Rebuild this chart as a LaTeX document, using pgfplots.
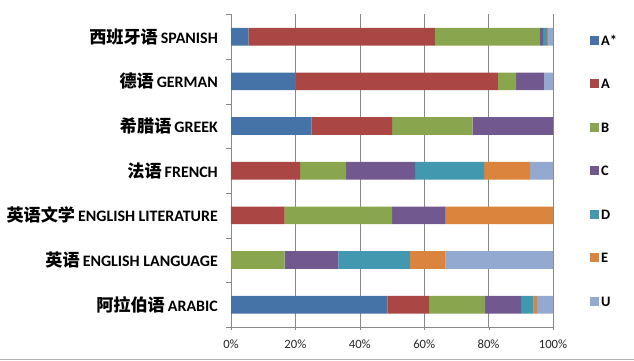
\documentclass[border=0pt]{standalone}
\usepackage{pgfplots}
\pgfplotsset{compat=1.18}
\usepackage{pgfplotstable}
\usepackage{fontspec}
\setmainfont{Carlito}
\newfontfamily\cjk{Noto Sans CJK SC}
\definecolor{cAs}{HTML}{4572A7}
\definecolor{cA}{HTML}{AA4643}
\definecolor{cB}{HTML}{89A54E}
\definecolor{cC}{HTML}{71588F}
\definecolor{cD}{HTML}{4198AF}
\definecolor{cE}{HTML}{DB843D}
\definecolor{cU}{HTML}{93A9CF}
\definecolor{gridc}{HTML}{888888}
\pgfplotstableread{
y As A B C D E U
0 48.6 12.9 17.4 11.2 3.9 1.1 4.9
1 0 0 16.67 16.67 22.22 11.11 33.33
2 0 16.67 33.33 16.67 0 33.33 0
3 0 21.43 14.29 21.43 21.43 14.29 7.14
4 25 25 25 25 0 0 0
5 20 62.86 5.71 8.57 0 0 2.86
6 5.5 57.8 32.6 1.0 1.3 0.2 1.6
}\datatab
\newcommand{\lab}[2]{{\cjk\bfseries #1}\kern3bp{\fontsize{16}{16}\selectfont\bfseries #2}}
\begin{document}
\begin{tikzpicture}
\path[use as bounding box] (0,0) rectangle (634bp,361bp);
\draw[gray!60, line width=0.8bp] (0,2bp) -- (634bp,2bp);
\begin{axis}[
  at={(231bp,34bp)}, anchor=south west,
  scale only axis, width=322bp, height=312.6bp,
  xbar stacked, bar width=17.7bp,
  xmin=0, xmax=100, ymin=-0.5, ymax=6.5,
  axis lines*=left,
  axis line style={gridc},
  xtick={0,20,...,100},
  xticklabels={0\%,20\%,40\%,60\%,80\%,100\%},
  xmajorgrids, major grid style={gridc, line width=0.6bp},
  ytick={0,...,6},
  yticklabels={
    \lab{阿拉伯语}{ARABIC},
    \lab{英语}{ENGLISH LANGUAGE},
    \lab{英语文学}{ENGLISH LITERATURE},
    \lab{法语}{FRENCH},
    \lab{希腊语}{GREEK},
    \lab{德语}{GERMAN},
    \lab{西班牙语}{SPANISH}},
  minor ytick={-0.5,0.5,...,6.5},
  y tick style={gridc},
  x tick style={gridc},
  major y tick style={draw=none},
  minor tick length=5bp,
  major tick length=3bp,
  tick align=outside,
  yticklabel style={font=\fontsize{17.2}{18}\selectfont, anchor=east, inner sep=0pt, xshift=-10bp},
  xticklabel style={font=\fontsize{12.7}{13}\selectfont, text=black!85, yshift=-6bp},
  /pgf/number format/assume math mode=true,
  legend style={draw=none, fill=none, at={(1.115,0.939)}, anchor=north west,
    font=\fontsize{14.5}{15}\selectfont\bfseries, row sep=29.5bp,
    inner sep=0pt, outer sep=0pt,
    nodes={text height=10bp, text depth=0bp, inner sep=2bp}},
  legend cell align=left,
  sq/.style={legend image code/.code={\fill[##1] (0bp,-4.5bp) rectangle (9bp,4.5bp);}},
]
\addplot[fill=cAs, draw=none, sq] table[x=As, y=y] {\datatab};
\addlegendentry{A*}
\addplot[fill=cA, draw=none, sq] table[x=A, y=y] {\datatab};
\addlegendentry{A}
\addplot[fill=cB, draw=none, sq] table[x=B, y=y] {\datatab};
\addlegendentry{B}
\addplot[fill=cC, draw=none, sq] table[x=C, y=y] {\datatab};
\addlegendentry{C}
\addplot[fill=cD, draw=none, sq] table[x=D, y=y] {\datatab};
\addlegendentry{D}
\addplot[fill=cE, draw=none, sq] table[x=E, y=y] {\datatab};
\addlegendentry{E}
\addplot[fill=cU, draw=none, sq] table[x=U, y=y] {\datatab};
\addlegendentry{U}
\end{axis}
\end{tikzpicture}
\end{document}
